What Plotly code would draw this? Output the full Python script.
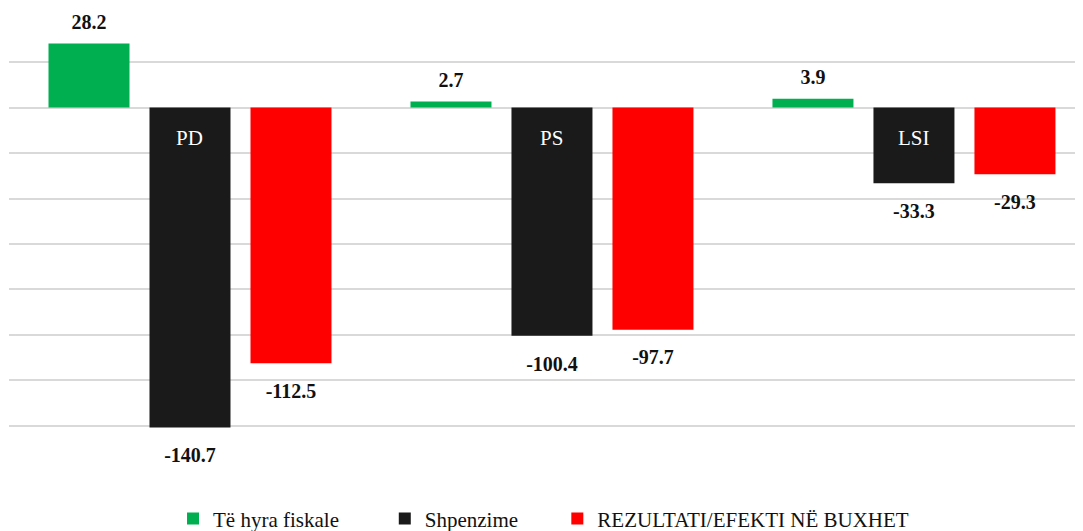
import plotly.graph_objects as go

categories = ["PD", "PS", "LSI"]
te_hyra = [28.2, 2.7, 3.9]
shpenzime = [-140.7, -100.4, -33.3]
rezultati = [-112.5, -97.7, -29.3]
series_names = ["Të hyra fiskale", "Shpenzime", "REZULTATI/EFEKTI NË BUXHET"]
colors = ["#00B050", "#1A1A1A", "#FF0000"]

FONT = "Liberation Serif"
GAP = 0.163

fig = go.Figure()
legends = ["legend", "legend2", "legend3"]
for name, vals, col, lg in zip(series_names, [te_hyra, shpenzime, rezultati], colors, legends):
    fig.add_trace(go.Bar(
        x=categories, y=vals, name=name, legend=lg,
        marker=dict(color=col, line=dict(width=0)),
    ))
for name, vals in zip(series_names, [te_hyra, shpenzime, rezultati]):
    fig.add_trace(go.Scatter(
        x=categories, y=vals, mode="markers+text", showlegend=False,
        marker=dict(size=[14 if v > 0 else 30 for v in vals], opacity=0),
        text=[f"{v:.1f}" for v in vals],
        textposition=["top center" if v > 0 else "bottom center" for v in vals],
        textfont=dict(family=FONT, size=20, color="#111111", weight="bold"),
        cliponaxis=False, hoverinfo="skip",
    ))

for c in categories:
    fig.add_annotation(x=c, y=0, text=c, showarrow=False, yanchor="middle",
                       yshift=-30, font=dict(family=FONT, size=21, color="white"))

leg_common = dict(orientation="h", xanchor="left", xref="container",
                  y=0.023, yanchor="middle", yref="container",
                  font=dict(family=FONT, size=21, color="#111111"),
                  itemwidth=30, bgcolor="rgba(0,0,0,0)")

fig.update_layout(
    width=1075, height=523,
    margin=dict(l=1, r=0, t=8, b=59, autoexpand=False),
    paper_bgcolor="white", plot_bgcolor="white",
    barmode="group", bargap=GAP, bargroupgap=0.198,
    scattermode="group", scattergap=GAP,
    showlegend=True,
    legend=dict(x=0.1535, **leg_common),
    legend2=dict(x=0.3505, **leg_common),
    legend3=dict(x=0.511, **leg_common),
    xaxis=dict(showticklabels=False, showgrid=False, zeroline=False,
               showline=False, ticks="", range=[-0.5, 2.467]),
    yaxis=dict(range=[-160.3, 40.3], dtick=20, tick0=0, showticklabels=False,
               showgrid=True, gridcolor="#D9D9D9", gridwidth=1.5,
               zeroline=True, zerolinecolor="#D9D9D9", zerolinewidth=1.5,
               showline=False, ticks=""),
    font=dict(family=FONT),
)

fig.write_html("out.html")
